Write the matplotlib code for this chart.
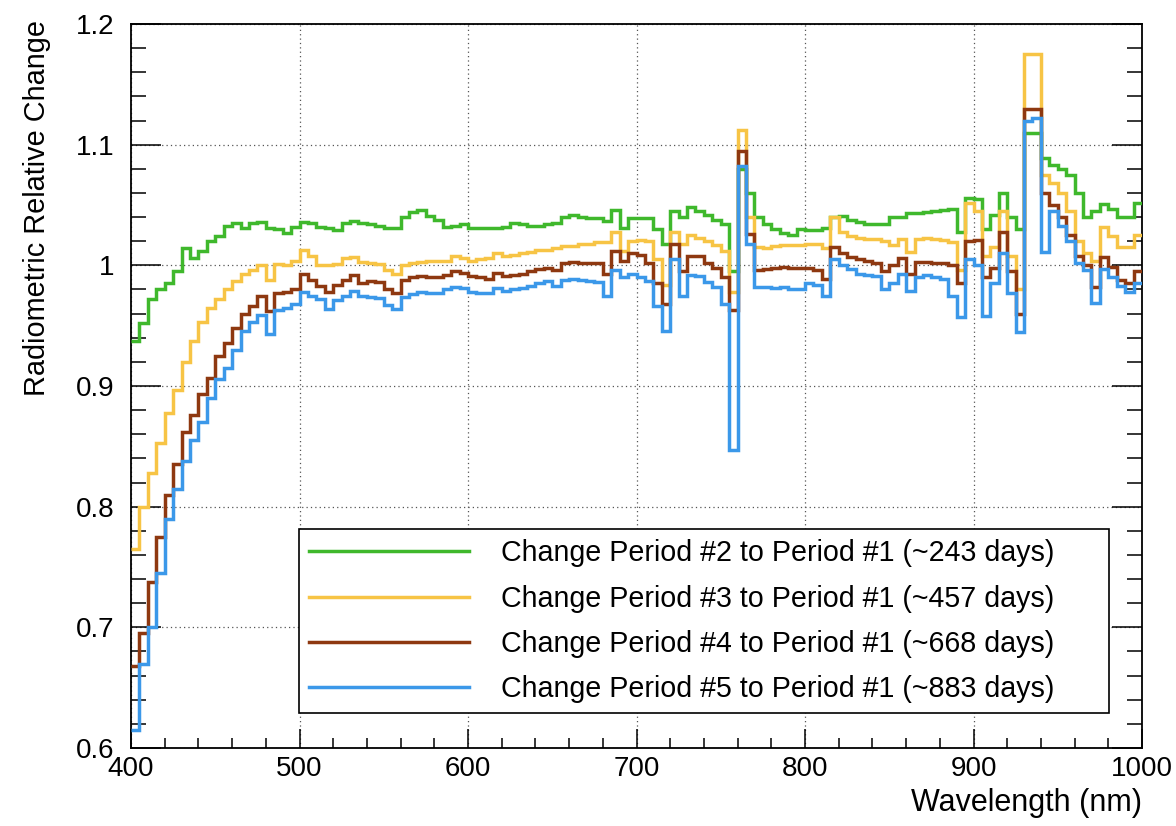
import numpy as np
import matplotlib
matplotlib.use('Agg')
import matplotlib.pyplot as plt
from matplotlib.ticker import MultipleLocator, FormatStrFormatter

plt.rcParams['font.family'] = ['Liberation Sans', 'DejaVu Sans']
plt.rcParams['font.size'] = 20

# 5 nm wavelength bins, 400-1000 nm
edges = np.arange(400, 1001, 5)

ratio_p2 = [
    0.937, 0.952, 0.972, 0.980, 0.985, 0.995, 1.014, 1.006, 1.012, 1.020,
    1.024, 1.033, 1.035, 1.031, 1.035, 1.036, 1.031, 1.030, 1.027, 1.032,
    1.036, 1.035, 1.032, 1.031, 1.029, 1.035, 1.037, 1.035, 1.034, 1.033,
    1.031, 1.031, 1.040, 1.044, 1.046, 1.041, 1.038, 1.032, 1.033, 1.034,
    1.031, 1.031, 1.031, 1.031, 1.032, 1.035, 1.034, 1.033, 1.033, 1.034,
    1.035, 1.040, 1.042, 1.040, 1.039, 1.039, 1.037, 1.046, 1.031, 1.039,
    1.039, 1.039, 1.030, 1.018, 1.045, 1.040, 1.048, 1.045, 1.042, 1.038,
    1.034, 0.995, 1.080, 1.060, 1.040, 1.034, 1.030, 1.027, 1.025, 1.030,
    1.029, 1.029, 1.031, 1.040, 1.041, 1.038, 1.036, 1.034, 1.034, 1.034,
    1.040, 1.040, 1.043, 1.043, 1.044, 1.045, 1.046, 1.047, 1.028, 1.056,
    1.055, 1.030, 1.042, 1.060, 1.040, 1.030, 1.110, 1.110, 1.089, 1.083,
    1.080, 1.075, 1.060, 1.040, 1.045, 1.051, 1.047, 1.040, 1.040, 1.052,
]
ratio_p3 = [
    0.765, 0.800, 0.828, 0.853, 0.878, 0.897, 0.920, 0.937, 0.953, 0.965,
    0.972, 0.980, 0.987, 0.993, 0.996, 1.000, 0.988, 1.001, 1.000, 1.004,
    1.013, 1.008, 1.000, 1.000, 1.001, 1.006, 1.007, 1.003, 1.002, 1.001,
    0.996, 0.993, 1.000, 1.002, 1.003, 1.004, 1.004, 1.004, 1.008, 1.006,
    1.004, 1.005, 1.006, 1.010, 1.008, 1.009, 1.010, 1.011, 1.013, 1.013,
    1.014, 1.016, 1.016, 1.018, 1.018, 1.019, 1.019, 1.028, 1.012, 1.020,
    1.021, 1.020, 1.005, 0.984, 1.028, 1.018, 1.025, 1.023, 1.020, 1.017,
    1.012, 0.978, 1.112, 1.040, 1.015, 1.014, 1.016, 1.017, 1.017, 1.017,
    1.018, 1.018, 1.014, 1.040, 1.028, 1.024, 1.023, 1.022, 1.022, 1.020,
    1.017, 1.022, 1.011, 1.022, 1.023, 1.022, 1.021, 1.019, 0.996, 1.052,
    1.045, 1.008, 1.015, 1.045, 1.008, 0.980, 1.175, 1.175, 1.075, 1.068,
    1.060, 1.045, 1.020, 1.010, 1.004, 1.032, 1.024, 1.015, 1.015, 1.025,
]
ratio_p4 = [
    0.668, 0.695, 0.738, 0.775, 0.810, 0.835, 0.862, 0.876, 0.893, 0.907,
    0.925, 0.936, 0.948, 0.960, 0.966, 0.975, 0.962, 0.977, 0.978, 0.980,
    0.993, 0.988, 0.983, 0.978, 0.984, 0.988, 0.992, 0.985, 0.987, 0.986,
    0.980, 0.977, 0.988, 0.990, 0.991, 0.990, 0.990, 0.992, 0.995, 0.994,
    0.991, 0.990, 0.989, 0.994, 0.991, 0.992, 0.993, 0.995, 0.997, 0.998,
    0.996, 1.002, 1.003, 1.002, 1.002, 1.002, 0.993, 1.012, 1.004, 1.010,
    1.009, 1.002, 0.985, 0.968, 1.018, 0.995, 1.008, 1.008, 1.002, 0.998,
    0.990, 0.963, 1.095, 1.026, 0.996, 0.997, 0.998, 0.999, 0.998, 0.998,
    0.998, 0.996, 0.989, 1.015, 1.010, 1.007, 1.005, 1.004, 1.002, 0.995,
    1.000, 1.006, 0.993, 1.003, 1.003, 1.002, 1.002, 1.000, 0.985, 1.020,
    1.021, 0.990, 0.998, 1.028, 0.995, 0.960, 1.130, 1.130, 1.060, 1.050,
    1.040, 1.025, 1.008, 1.000, 0.982, 1.007, 0.999, 0.988, 0.985, 0.995,
]
ratio_p5 = [
    0.615, 0.670, 0.700, 0.745, 0.790, 0.815, 0.838, 0.855, 0.870, 0.890,
    0.906, 0.915, 0.930, 0.946, 0.953, 0.959, 0.943, 0.963, 0.965, 0.968,
    0.978, 0.975, 0.972, 0.964, 0.971, 0.975, 0.979, 0.975, 0.974, 0.973,
    0.967, 0.964, 0.974, 0.976, 0.978, 0.977, 0.977, 0.980, 0.982, 0.981,
    0.978, 0.977, 0.977, 0.981, 0.979, 0.980, 0.981, 0.983, 0.985, 0.987,
    0.983, 0.988, 0.989, 0.988, 0.987, 0.986, 0.975, 0.996, 0.990, 0.993,
    0.990, 0.987, 0.966, 0.946, 1.005, 0.975, 0.992, 0.991, 0.986, 0.982,
    0.968, 0.847, 1.082, 1.018, 0.982, 0.982, 0.981, 0.982, 0.980, 0.980,
    0.985, 0.984, 0.975, 1.005, 1.000, 0.997, 0.993, 0.992, 0.991, 0.980,
    0.985, 0.993, 0.979, 0.990, 0.992, 0.990, 0.989, 0.975, 0.957, 1.005,
    1.000, 0.958, 0.985, 1.010, 0.977, 0.945, 1.120, 1.122, 1.011, 1.045,
    1.033, 1.020, 1.002, 0.996, 0.969, 0.997, 0.990, 0.983, 0.978, 0.985,
]

labels = [
    'Change Period #2 to Period #1 (~243 days)',
    'Change Period #3 to Period #1 (~457 days)',
    'Change Period #4 to Period #1 (~668 days)',
    'Change Period #5 to Period #1 (~883 days)',
]
colors = ['#3fb82c', '#f7c445', '#8e3810', '#3b98e9']

fig = plt.figure(figsize=(11.76, 8.26), dpi=100)
ax = fig.add_axes([0.1114, 0.0944, 0.8597, 0.8765])

for i, (vals, col, lab) in enumerate(zip([ratio_p2, ratio_p3, ratio_p4, ratio_p5], colors, labels)):
    ax.stairs(vals, edges, color=col, lw=2.5, label=lab, baseline=None, zorder=3 + i)

ax.set_xlim(400, 1000)
ax.set_ylim(0.6, 1.2)
ax.xaxis.set_major_locator(MultipleLocator(100))
ax.xaxis.set_minor_locator(MultipleLocator(20))
ax.yaxis.set_major_locator(MultipleLocator(0.1))
ax.yaxis.set_minor_locator(MultipleLocator(0.02))
ax.yaxis.set_major_formatter(FormatStrFormatter('%g'))

ax.grid(which='major', color='#555555', linestyle=(0, (1, 2.5)), lw=0.9)
ax.set_axisbelow(True)

for s in ax.spines.values():
    s.set_linewidth(1.3)

ax.tick_params(axis='y', which='both', direction='in', left=True, right=True, width=1.1, pad=12, labelsize=20)
ax.tick_params(axis='y', which='major', length=21.5)
ax.tick_params(axis='y', which='minor', length=11)
ax.tick_params(axis='x', which='both', direction='in', top=False, bottom=True, width=1.1, pad=6, labelsize=20)
ax.tick_params(axis='x', which='major', length=14)
ax.tick_params(axis='x', which='minor', length=7)

ax.set_xlabel('Wavelength (nm)', loc='right', fontsize=22)
ax.xaxis.set_label_coords(1.0, -0.055)
ax.set_ylabel('Radiometric Relative Change', loc='top', fontsize=20.8)
ax.yaxis.set_label_coords(-0.079, 1.005)

leg = ax.legend(loc='lower left', bbox_to_anchor=(0.166, 0.048, 0.801, 0.253), mode='expand',
                borderaxespad=0, fontsize=20.6, handlelength=5.6, handletextpad=1.1,
                labelspacing=0.6, borderpad=0.36, fancybox=False, framealpha=1)
leg.get_frame().set_edgecolor('black')
leg.get_frame().set_linewidth(1.2)
leg.set_zorder(10)

fig.savefig('out.png', dpi=100)
